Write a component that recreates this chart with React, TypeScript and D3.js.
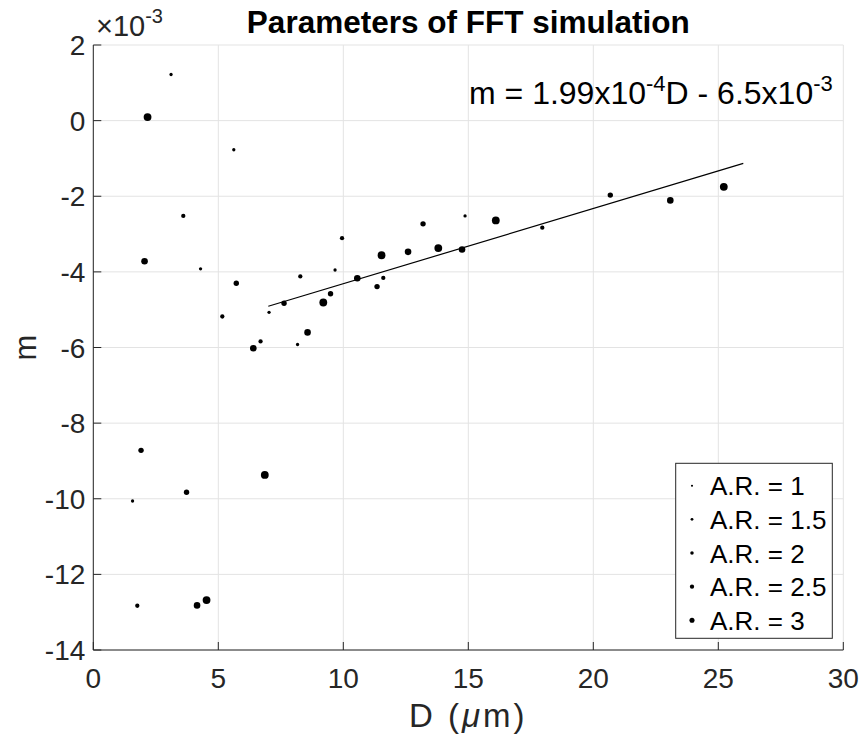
import React from "react";
import * as d3 from "d3";

// values of m are in units of 1e-3
const arLabels = ["1", "1.5", "2", "2.5", "3"];
const dAR1 = [3.11, 5.62, 4.29, 7.03, 8.17, 9.67, 14.87, 1.57];
const mAR1 = [1.22, -0.77, -3.92, -5.07, -5.92, -3.95, -2.52, -10.06];
const dAR15 = [3.6, 5.16, 6.69, 8.28, 9.95, 11.6, 17.96, 1.76];
const mAR15 = [-2.52, -5.18, -5.84, -4.12, -3.11, -4.16, -2.83, -12.83];
const dAR2 = [5.72, 7.63, 9.49, 11.35, 13.19, 20.68, 1.91, 3.73];
const mAR2 = [-4.3, -4.83, -4.58, -4.39, -2.73, -1.97, -8.72, -9.83];
const dAR25 = [2.05, 6.4, 8.57, 10.56, 12.59, 14.75, 23.08, 4.15];
const mAR25 = [-3.72, -6.02, -5.6, -4.17, -3.47, -3.41, -2.11, -12.82];
const dAR3 = [2.17, 9.2, 11.53, 13.8, 16.1, 25.22, 6.86, 4.53];
const mAR3 = [0.095, -4.81, -3.56, -3.37, -2.64, -1.75, -9.37, -12.68];
const fitD = [7, 26];
const fitM = [-4.91, -1.13];
const xTicks = [0, 5, 10, 15, 20, 25, 30];
const yTicks = [2, 0, -2, -4, -6, -8, -10, -12, -14];

const seriesD = [dAR1, dAR15, dAR2, dAR25, dAR3];
const seriesM = [mAR1, mAR15, mAR2, mAR25, mAR3];
const radii = [1.65, 2.15, 2.7, 3.3, 3.9];

export default function App() {
  const W = 864, H = 738;
  const L = 93.3, R = 843.3, T = 45, B = 650;
  const x = d3.scaleLinear().domain([0, 30]).range([L, R]);
  const y = d3.scaleLinear().domain([-14, 2]).range([B, T]);
  const axisCol = "#262626";
  const gridCol = "#e3e3e3";
  const font = "Arial, 'Liberation Sans', Helvetica, sans-serif";
  const line = d3.line<number>().x((d) => x(d)).y((_, i) => y(fitM[i]));

  const legL = 675.7, legT = 463.3, legR = 832.3, legB = 638.3;
  const rowY = (i: number) => 485.7 + i * 33.65;

  return (
    <svg width={W} height={H} style={{ position: "absolute", left: 0, top: 0, background: "#fff" }} fontFamily={font}>
      <rect x={0} y={0} width={W} height={H} fill="#fff" />
      {/* grid */}
      {xTicks.map((t) => (
        <line key={"gx" + t} x1={x(t)} x2={x(t)} y1={T} y2={B} stroke={gridCol} strokeWidth={1} />
      ))}
      {yTicks.map((t) => (
        <line key={"gy" + t} x1={L} x2={R} y1={y(t)} y2={y(t)} stroke={gridCol} strokeWidth={1} />
      ))}
      {/* axes */}
      <line x1={L} x2={L} y1={T} y2={B} stroke={axisCol} strokeWidth={1} />
      <line x1={L} x2={R} y1={B} y2={B} stroke={axisCol} strokeWidth={1} />
      {xTicks.map((t) => (
        <g key={"xt" + t}>
          <line x1={x(t)} x2={x(t)} y1={B} y2={B - 8} stroke={axisCol} strokeWidth={1} />
          <text x={x(t)} y={B + 38} textAnchor="middle" fontSize={28} fill={axisCol}>{t}</text>
        </g>
      ))}
      {yTicks.map((t) => (
        <g key={"yt" + t}>
          <line x1={L} x2={L + 8} y1={y(t)} y2={y(t)} stroke={axisCol} strokeWidth={1} />
          <text x={L - 8} y={y(t) + 10} textAnchor="end" fontSize={28} fill={axisCol}>{t}</text>
        </g>
      ))}
      {/* exponent */}
      <text x={96} y={36} fontSize={29} fill={axisCol}>
        ×10<tspan dy={-13} fontSize={20}>-3</tspan>
      </text>
      {/* title */}
      <text x={(L + R) / 2} y={33} textAnchor="middle" fontSize={31.5} fontWeight="bold" fill="#000">
        Parameters of FFT simulation
      </text>
      {/* axis labels */}
      <text x={(L + R) / 2} y={727} textAnchor="middle" fontSize={33} fill={axisCol} letterSpacing={3}>
        D (<tspan fontStyle="italic">μ</tspan>m)
      </text>
      <text transform={`translate(36,${(T + B) / 2}) rotate(-90)`} textAnchor="middle" fontSize={31} fill={axisCol}>m</text>
      {/* fit line */}
      <path d={line(fitD) || ""} fill="none" stroke="#000" strokeWidth={1.2} />
      {/* points */}
      {seriesD.map((ds, s) =>
        ds.map((d, i) => (
          <circle key={`p${s}-${i}`} cx={x(d)} cy={y(seriesM[s][i])} r={radii[s]} fill="#000" />
        ))
      )}
      {/* equation */}
      <text x={469} y={104} fontSize={32} fill="#000">
        m = 1.99x10<tspan dy={-13} fontSize={22}>-4</tspan>
        <tspan dy={13}>D - 6.5x10</tspan>
        <tspan dy={-13} fontSize={22}>-3</tspan>
      </text>
      {/* legend */}
      <rect x={legL} y={legT} width={legR - legL} height={legB - legT} fill="#fff" stroke={axisCol} strokeWidth={1} />
      {arLabels.map((lab, i) => (
        <g key={"lg" + i}>
          <circle cx={692} cy={rowY(i)} r={radii[i] * 0.65} fill="#000" />
          <text x={710} y={rowY(i) + 9.5} fontSize={26} fill="#000">{`A.R. = ${lab}`}</text>
        </g>
      ))}
    </svg>
  );
}
